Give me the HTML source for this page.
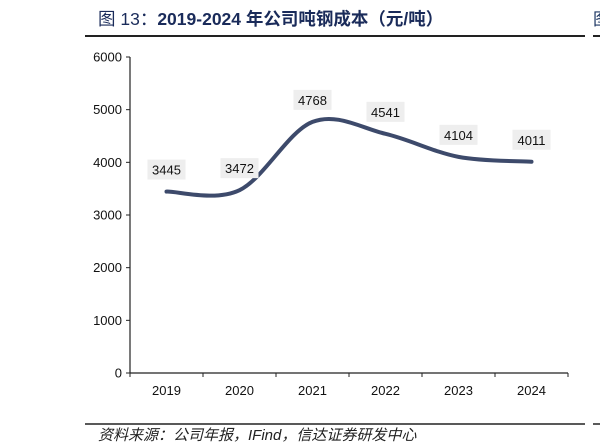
<!DOCTYPE html>
<html><head><meta charset="utf-8"><style>
body{margin:0;background:#fff;}
svg{display:block;font-family:"Liberation Sans","Noto Sans CJK SC",sans-serif;}
</style></head><body>
<svg width="600" height="444" viewBox="0 0 600 444">
<text x="98" y="25" font-size="17.5" fill="#1a2b5a"><tspan>图 13：</tspan><tspan font-weight="bold">2019-2024 年公司吨钢成本（元/吨）</tspan></text>
<line x1="85" y1="36" x2="585" y2="36" stroke="#222" stroke-width="2"/>
<line x1="593" y1="36" x2="600" y2="36" stroke="#222" stroke-width="2"/>
<text x="593" y="25" font-size="17" fill="#1f3864">图</text>
<g id="axes"></g>
<g id="plot"></g>
<line x1="85" y1="424" x2="585" y2="424" stroke="#222" stroke-width="1.5"/>
<line x1="593" y1="424" x2="600" y2="424" stroke="#222" stroke-width="1.5"/>
<text x="98" y="440" font-size="15" font-style="italic" fill="#222">资料来源：公司年报，IFind，信达证券研发中心</text>
</svg>
<script>
const categories=["2019","2020","2021","2022","2023","2024"];
const values=[3445,3472,4768,4541,4104,4011];
const yTicks=[0,1000,2000,3000,4000,5000,6000];
const NS="http://www.w3.org/2000/svg";
const x0=130,x1=568,y0=373,y1=57,yMax=6000;
const step=(x1-x0)/categories.length;
const X=i=>x0+step*(i+0.5);
const Y=v=>y0-(v/yMax)*(y0-y1);
function mk(t,a,p){const e=document.createElementNS(NS,t);for(const k in a)e.setAttribute(k,a[k]);p.appendChild(e);return e;}
const ax=document.getElementById('axes'),pl=document.getElementById('plot');
let e=mk('line',{x1:x0,y1:y0,x2:x0,y2:y1,stroke:'#222','stroke-width':1.2},ax);


e=mk('line',{x1:x0,y1:y0,x2:x1,y2:y0,stroke:'#222','stroke-width':1.2},ax);


yTicks.forEach(v=>{
 mk('line',{x1:x0-4,y1:Y(v),x2:x0,y2:Y(v),stroke:'#222'},ax);
 const t=mk('text',{x:x0-8,y:Y(v)+4.5,'text-anchor':'end','font-size':13,fill:'#111'},ax);
 t.textContent=v;
 
 
});
for(let i=0;i<=categories.length;i++)mk('line',{x1:x0+step*i,y1:y0,x2:x0+step*i,y2:y0+4,stroke:'#222'},ax);
categories.forEach((c,i)=>{
 const t=mk('text',{x:X(i),y:y0+22,'text-anchor':'middle','font-size':13,fill:'#111'},ax);
 t.textContent=c;
 
 
});
const pts=values.map((v,i)=>[X(i),Y(v)]);
let d=`M${pts[0][0]},${pts[0][1]}`;
for(let i=0;i<pts.length-1;i++){
 const p0=pts[Math.max(0,i-1)],p1=pts[i],p2=pts[i+1],p3=pts[Math.min(pts.length-1,i+2)];
 const k=1/6;
 d+=` C${p1[0]+(p2[0]-p0[0])*k},${p1[1]+(p2[1]-p0[1])*k} ${p2[0]-(p3[0]-p1[0])*k},${p2[1]-(p3[1]-p1[1])*k} ${p2[0]},${p2[1]}`;
}
e=mk('path',{d:d,fill:'none',stroke:'#3d4a6b','stroke-width':4,'stroke-linecap':'round'},pl);


values.forEach((v,i)=>{
 const cx=X(i),cy=Y(v)-22;
 const r=mk('rect',{x:cx-19,y:cy-10,width:38,height:20,fill:'#eeeeee'},pl);
 
 
 const t=mk('text',{x:cx,y:cy+5,'text-anchor':'middle','font-size':13,fill:'#111'},pl);
 t.textContent=v;
 
 
});
</script>
</body></html>
